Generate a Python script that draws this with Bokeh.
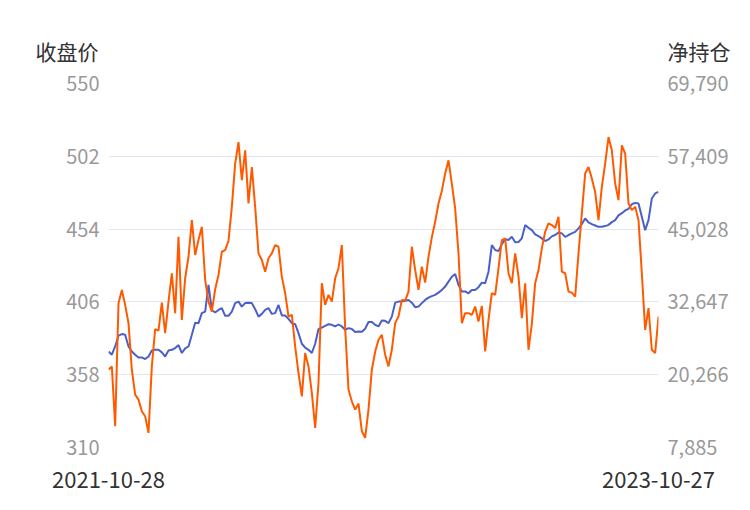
from bokeh.plotting import figure
from bokeh.models import Range1d, LinearAxis, FixedTicker, NumeralTickFormatter, Label
from bokeh.embed import file_html
from bokeh.resources import INLINE

start_date = "2021-10-28"
end_date = "2023-10-27"

price_ticks = [310, 358, 406, 454, 502, 550]
pos_ticks = [7885, 20266, 32647, 45028, 57409, 69790]

close_price = [
    373.3, 371.2, 376.6, 383.7, 384.8, 384.3, 376.6, 373.3, 371.2, 369.4,
    369.4, 368.3, 370.0, 374.0, 374.4, 374.4, 372.7, 370.0, 374.0, 374.4,
    375.6, 377.5, 372.3, 375.3, 376.6, 384.3, 392.2, 392.0, 398.6, 399.6,
    417.2, 400.7, 399.0, 400.7, 401.9, 396.8, 396.8, 399.6, 405.2, 406.2,
    402.9, 405.2, 405.5, 405.2, 401.2, 396.3, 398.1, 400.7, 401.9, 398.1,
    398.6, 404.0, 397.1, 397.0, 394.8, 392.0, 391.3, 385.4, 378.4, 375.8,
    374.4, 372.3, 378.4, 388.1, 389.1, 390.2, 391.3, 390.9, 389.8, 391.1,
    389.8, 387.6, 388.7, 388.1, 386.1, 386.5, 386.3, 388.3, 392.7, 392.7,
    390.9, 389.8, 393.7, 393.5, 392.0, 396.3, 405.5, 406.2, 406.2, 406.7,
    407.3, 405.5, 402.5, 402.9, 405.2, 407.3, 408.8, 409.8, 410.6, 412.1,
    413.9, 416.1, 419.4, 422.6, 424.4, 417.2, 412.9, 412.9, 411.7, 413.9,
    413.9, 415.7, 418.7, 418.3, 425.9, 443.5, 440.2, 439.5, 444.1, 447.4,
    446.8, 448.9, 445.3, 445.5, 447.9, 456.6, 454.9, 453.3, 450.5, 449.4,
    447.9, 446.1, 447.2, 449.2, 450.1, 451.8, 451.2, 448.9, 450.1, 451.2,
    452.2, 454.5, 457.3, 461.0, 458.4, 457.3, 456.4, 455.5, 455.5, 456.0,
    456.8, 458.6, 459.9, 463.0, 464.5, 466.3, 467.4, 470.4, 471.3, 470.9,
    462.1, 453.3, 459.9, 474.2, 477.5, 478.5,
]

net_position = [
    21115, 21674, 11498, 32427, 34683, 32139, 29035, 21115, 16875, 16027,
    14042, 13194, 10379, 21674, 28018, 27780, 32529, 27339, 32698, 37515,
    30731, 43722, 29595, 36667, 40330, 46555, 40619, 43163, 45418, 36379,
    32698, 31002, 34802, 37227, 41178, 41467, 43044, 48810, 56171, 59834,
    53339, 58427, 49387, 55594, 48810, 40907, 39771, 37786, 40059, 40907,
    42315, 42026, 36938, 34123, 30154, 30443, 25066, 20555, 16586, 23947,
    21674, 17163, 11227, 18859, 35819, 32139, 33835, 32698, 36667, 38363,
    42315, 28187, 17723, 15738, 14331, 15348, 10650, 9531, 14331, 21115,
    24168, 26203, 27051, 23659, 21674, 24507, 29035, 30154, 32987, 32868,
    34394, 42026, 38075, 34683, 38634, 35921, 40330, 43621, 46266, 49387,
    51524, 54475, 56731, 52779, 48539, 40907, 29035, 30731, 30731, 30443,
    31850, 29306, 31969, 24218, 29595, 34123, 33835, 38363, 43163, 43451,
    37515, 35819, 40907, 36938, 29883, 35819, 24507, 28916, 35819, 38075,
    41755, 44570, 45995, 45707, 45198, 47114, 37786, 37515, 34394, 34225,
    33546, 40907, 47691, 54475, 55594, 53627, 51354, 46555, 52202, 56171,
    60682, 58427, 52779, 49947, 59275, 57867, 49387, 48251, 48810, 46555,
    37515, 27899, 31579, 24507, 23947, 30154,
]

n = len(close_price)
idx = list(range(n))

FONT = "Noto Sans CJK SC"

p = figure(width=750, height=510, output_backend="svg", toolbar_location=None,
           x_range=Range1d(0, n - 1), y_range=Range1d(price_ticks[0], price_ticks[-1]),
           min_border_left=108, min_border_right=92, min_border_top=83, min_border_bottom=63,
           background_fill_color="white", border_fill_color="white")
p.outline_line_color = None
p.extra_y_ranges = {"pos": Range1d(pos_ticks[0], pos_ticks[-1])}


def style_axis(ax, color, size, standoff):
    ax.axis_line_color = None
    ax.major_tick_line_color = None
    ax.minor_tick_line_color = None
    ax.major_tick_out = 0
    ax.major_tick_in = 0
    ax.minor_tick_out = 0
    ax.minor_tick_in = 0
    ax.major_label_text_color = color
    ax.major_label_text_font = FONT
    ax.major_label_text_font_size = size
    ax.major_label_standoff = standoff


ya = p.yaxis[0]
ya.ticker = FixedTicker(ticks=price_ticks)
style_axis(ya, "#999999", "20px", 9)

ra = LinearAxis(y_range_name="pos", ticker=FixedTicker(ticks=pos_ticks),
                formatter=NumeralTickFormatter(format="0,0"))
style_axis(ra, "#999999", "20px", 9)
p.add_layout(ra, "right")

xa = p.xaxis[0]
xa.ticker = FixedTicker(ticks=[0, n - 1])
xa.major_label_overrides = {0: start_date, n - 1: end_date}
style_axis(xa, "#333333", "22px", 24)

p.xgrid.visible = False
p.ygrid.grid_line_color = "#e0e6f1"
p.ygrid.grid_line_width = 1

p.line(idx, close_price, line_color="#4a60c8", line_width=2)
p.line(idx, net_position, line_color="#ff5a00", line_width=2, y_range_name="pos")

# axis titles, placed in the top side panel so they are not clipped to the frame
p.add_layout(Label(x=-3.0, y=571.5, text="收盘价",
                   text_align="right", text_baseline="middle",
                   text_font=FONT, text_font_size="21px", text_color="#333333"), "above")
p.add_layout(Label(x=n - 1 + 2.7, y=571.5, text="净持仓",
                   text_align="left", text_baseline="middle",
                   text_font=FONT, text_font_size="21px", text_color="#333333"), "above")

open("out.html", "w").write(file_html(p, INLINE))
